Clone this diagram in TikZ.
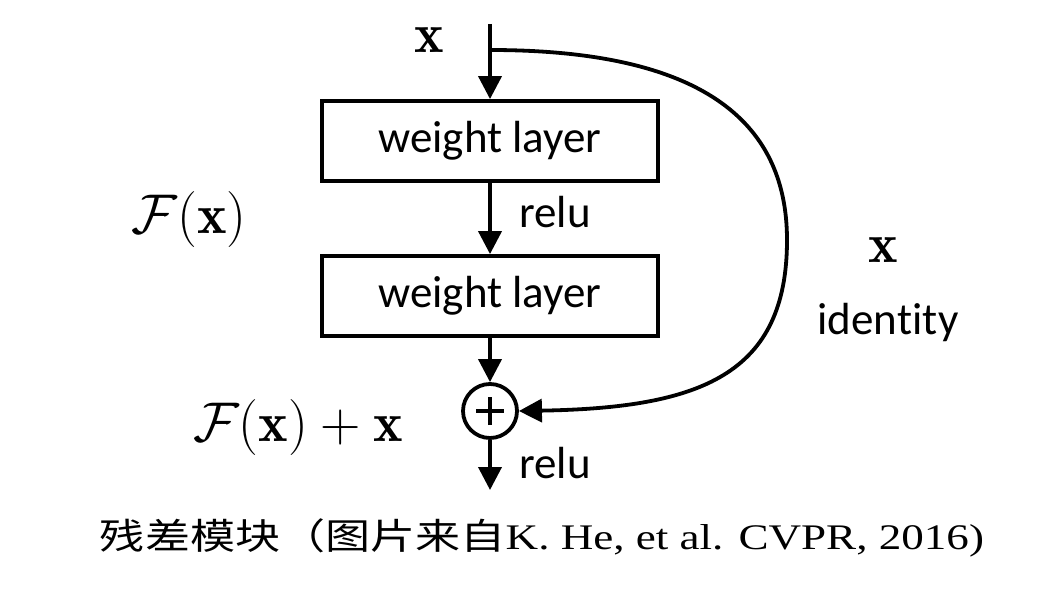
\documentclass[tikz,border=0pt]{standalone}
\usepackage{fontspec}
\usepackage{graphicx}
\usetikzlibrary{arrows.meta}
\newfontfamily\calib[Ligatures=NoCommon]{Carlito}
\newfontfamily\cjk{Noto Sans CJK SC}
\newfontfamily\tms{Liberation Serif}
\newcommand{\bigmath}[1]{\scalebox{1.125}{\fontsize{24.88}{28}\selectfont$#1$}}
\begin{document}
\begin{tikzpicture}[x=0.5pt,y=-0.5pt,
  arr/.style={line width=1.9pt,-{Triangle[length=11.5pt,width=11.5pt]}},
  box/.style={draw,line width=1.9pt,minimum width=168pt,minimum height=40pt,inner sep=0pt,font=\calib\fontsize{22.5}{26}\selectfont},
  lbl/.style={font=\calib\fontsize{22.5}{26}\selectfont,inner sep=0pt},
  mth/.style={inner sep=0pt}]
\useasboundingbox (0,0) rectangle (1058,588);
\node[box] (w1) at (490,141) {weight layer};
\node[box] (w2) at (490,296) {weight layer};
\node[circle,draw,line width=1.9pt,minimum size=27pt,inner sep=0pt] (add) at (490,411) {};
\draw[line width=1.9pt] ([xshift=-7pt]add.center) -- ([xshift=7pt]add.center);
\draw[line width=1.9pt] ([yshift=-7pt]add.center) -- ([yshift=7pt]add.center);
\coordinate (top) at (490,24);
\coordinate (br) at (490,50);
\coordinate (out) at (490,490);
\draw[arr] (top) -- (w1.north);
\draw[arr] (w1.south) -- (w2.north);
\draw[arr] (w2.south) -- (add.north);
\draw[arr] (add.south) -- (out);
\draw[arr] (br) .. controls (700,50) and (787,120) .. (787,240) .. controls (787,375) and (700,408) .. (add.east);
\node[lbl] (r1) at (555,212) {relu};
\node[lbl] (r2) at (555,463) {relu};
\node[lbl] (id) at (888,322) {iden\kern0pt t\kern0pt ity};
\node[mth] (xt) at (429,40) {\bigmath{\mathbf{x}}};
\node[mth] (xr) at (883,250) {\bigmath{\mathbf{x}}};
\node[mth] (fx) at (189,220) {\bigmath{\mathcal{F}(\mathbf{x})}};
\node[mth] (fxx) at (298,428) {\bigmath{\mathcal{F}(\mathbf{x})+\mathbf{x}}};
\node[inner sep=0pt] (cap) at (542,538) {\resizebox{442pt}{\height}{\fontsize{18}{20}\selectfont{\cjk 残差模块（图片来自}{\tms K. He, et al. CVPR, 2016)}}};
\end{tikzpicture}
\end{document}
